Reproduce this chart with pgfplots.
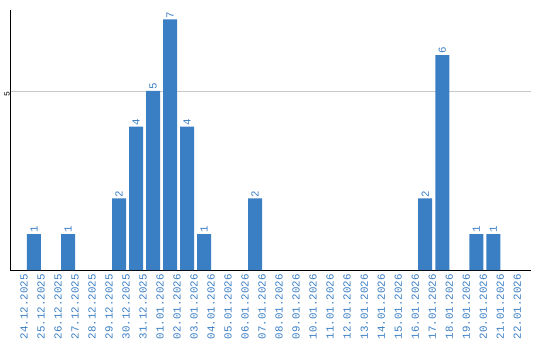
\documentclass[border=0pt]{standalone}
\usepackage{pgfplots}
\pgfplotsset{compat=1.18}
\usepackage{fontspec}
\setmainfont{Liberation Sans}
\newfontfamily\monofont{Liberation Mono}
\definecolor{barblue}{HTML}{3A7EC4}
\definecolor{gridgray}{HTML}{C8C8C8}
\begin{document}
\begin{tikzpicture}
\begin{axis}[
  scale only axis,
  width=520.7pt, height=260pt,
  ybar, bar width=14pt,
  xmin=-0.41, xmax=30.2,
  ymin=0, ymax=7.26,
  axis lines*=left,
  axis line style={black, thick, -},
  /pgf/number format/assume math mode=true,
  xtick={0,...,29},
  xticklabels={24.12.2025,25.12.2025,26.12.2025,27.12.2025,28.12.2025,29.12.2025,30.12.2025,31.12.2025,01.01.2026,02.01.2026,03.01.2026,04.01.2026,05.01.2026,06.01.2026,07.01.2026,08.01.2026,09.01.2026,10.01.2026,11.01.2026,12.01.2026,13.01.2026,14.01.2026,15.01.2026,16.01.2026,17.01.2026,18.01.2026,19.01.2026,20.01.2026,21.01.2026,22.01.2026},
  xticklabel style={rotate=90, anchor=east, font=\monofont\fontsize{10.8}{12}\selectfont, text=barblue, inner sep=0pt, xshift=0pt},
  xtick style={draw=none},
  x tick label style={yshift=-7pt},
  ytick={5},
  yticklabel style={rotate=90, anchor=south, font=\monofont\fontsize{8}{10}\selectfont, inner sep=0pt, xshift=-3pt},
  ytick style={draw=none},
  ymajorgrids, grid style={gridgray, line width=0.8pt},
  nodes near coords={\pgfmathprintnumber[assume math mode=true]{\pgfplotspointmeta}},
  nodes near coords style={rotate=90, anchor=west, font=\monofont\fontsize{10.8}{12}\selectfont, text=barblue, inner sep=1pt},
  clip=false,
]
\addplot[fill=barblue, draw=none] coordinates {
 (1,1) (3,1) (6,2) (7,4) (8,5) (9,7) (10,4) (11,1) (14,2) (24,2) (25,6) (27,1) (28,1)
};
\end{axis}
\pgfresetboundingbox
\useasboundingbox ([xshift=-10pt,yshift=-70pt]current axis.south west) rectangle ([xshift=9.3pt,yshift=10pt]current axis.north east);
\end{tikzpicture}
\end{document}
